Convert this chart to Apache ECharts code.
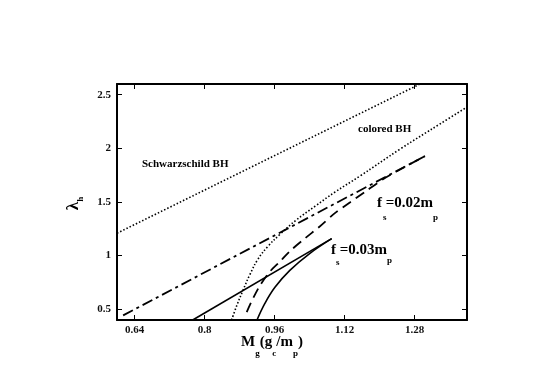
<!DOCTYPE html>
<html>
<head>
<meta charset="utf-8">
<script src="https://cdn.jsdelivr.net/npm/echarts@6/dist/echarts.min.js"></script>
<style>html,body{margin:0;padding:0;background:#fff;}#c{width:545px;height:380px;}</style>
</head>
<body>
<div id="c"></div>
<script>
// ---- data ----
const xTicks = [0.64, 0.8, 0.96, 1.12, 1.28];
const yTicks = [0.5, 1, 1.5, 2, 2.5];

const schwarzschildX = [0.6, 1.2926];
const schwarzschildY = [1.209, 2.6];

const coloredBHX = [0.862, 0.874, 0.888, 0.904, 0.922, 0.945, 0.973, 1.009, 1.053, 1.098, 1.155, 1.247, 1.338, 1.40];
const coloredBHY = [0.400, 0.537, 0.677, 0.826, 0.966, 1.087, 1.200, 1.330, 1.461, 1.592, 1.741, 1.993, 2.227, 2.385];

const fs002StraightX = [0.614, 1.304];
const fs002StraightY = [0.443, 1.928];

const fs002CurveX = [0.8965, 0.911, 0.927, 0.950, 0.973, 0.995, 1.030, 1.064, 1.098, 1.133, 1.167, 1.208, 1.247, 1.304];
const fs002CurveY = [0.474, 0.602, 0.723, 0.854, 0.947, 1.041, 1.162, 1.274, 1.396, 1.498, 1.595, 1.712, 1.803, 1.928];

const fs003StraightX = [0.773, 1.0907];
const fs003StraightY = [0.400, 1.159];

const fs003CurveX = [0.920, 0.938, 0.961, 0.995, 1.041, 1.0907];
const fs003CurveY = [0.400, 0.555, 0.705, 0.863, 1.022, 1.159];

function pairs(xs, ys) { return xs.map((x, i) => [x, ys[i]]); }

const SERIF = '"Liberation Serif", "Times New Roman", serif';
const chart = echarts.init(document.getElementById('c'), null, {renderer: 'canvas'});

const axisCommon = {
  type: 'value',
  axisLine: {show: true, onZero: false, lineStyle: {color: '#000', width: 2}},
  splitLine: {show: false},
  axisTick: {show: true, inside: true, length: 5, lineStyle: {color: '#000', width: 1}},
};

function lineSeries(name, xs, ys, style, smooth) {
  return {
    name: name, type: 'line', showSymbol: false, symbol: 'none',
    smooth: smooth || false, clip: true,
    data: pairs(xs, ys),
    lineStyle: Object.assign({color: '#000', width: 1.5}, style),
    emphasis: {disabled: true}, animation: false
  };
}

chart.setOption({
  animation: false,
  grid: {left: 117, right: 78, top: 84, bottom: 60, containLabel: false},
  xAxis: [
    Object.assign({}, axisCommon, {
      min: 0.6, max: 1.4, position: 'bottom',
      axisTick: Object.assign({}, axisCommon.axisTick, {customValues: xTicks}),
      axisLabel: {customValues: xTicks, margin: 5, color: '#111', fontFamily: SERIF, fontWeight: 'bold', fontSize: 11}
    }),
    Object.assign({}, axisCommon, {
      min: 0.6, max: 1.4, position: 'top',
      axisTick: Object.assign({}, axisCommon.axisTick, {customValues: xTicks}),
      axisLabel: {show: false}
    })
  ],
  yAxis: [
    Object.assign({}, axisCommon, {
      min: 0.4, max: 2.6, position: 'left',
      axisTick: Object.assign({}, axisCommon.axisTick, {customValues: yTicks}),
      axisLabel: {customValues: yTicks, margin: 6, color: '#111', fontFamily: SERIF, fontWeight: 'bold', fontSize: 11}
    }),
    Object.assign({}, axisCommon, {
      min: 0.4, max: 2.6, position: 'right',
      axisTick: Object.assign({}, axisCommon.axisTick, {customValues: yTicks}),
      axisLabel: {show: false}
    })
  ],
  series: [
    lineSeries('Schwarzschild BH', schwarzschildX, schwarzschildY, {type: [1.5, 2], width: 1.6}),
    lineSeries('colored BH', coloredBHX, coloredBHY, {type: [1.5, 2], width: 1.6}, 0.4),
    lineSeries('fs=0.02 straight', fs002StraightX, fs002StraightY, {type: [11, 4, 3, 4], width: 1.8}),
    lineSeries('fs=0.02 curve', fs002CurveX, fs002CurveY, {type: [10, 6], width: 1.8}, 0.3),
    lineSeries('fs=0.03 straight', fs003StraightX, fs003StraightY, {type: 'solid', width: 1.6}),
    lineSeries('fs=0.03 curve', fs003CurveX, fs003CurveY, {type: 'solid', width: 1.6}, 0.4)
  ],
  graphic: [
    {type: 'text', x: 142, y: 164, style: {text: 'Schwarzschild BH', font: 'bold 11px ' + SERIF, fill: '#000', verticalAlign: 'middle'}},
    {type: 'text', x: 358, y: 129, style: {text: 'colored BH', font: 'bold 11px ' + SERIF, fill: '#000', verticalAlign: 'middle'}},
    // f_s = 0.02 m_p
    {type: 'text', x: 377, y: 203, style: {text: 'f =0.02m', font: 'bold 15px ' + SERIF, fill: '#000', verticalAlign: 'middle'}},
    {type: 'text', x: 383, y: 218, style: {text: 's', font: 'bold 9px ' + SERIF, fill: '#000', verticalAlign: 'middle'}},
    {type: 'text', x: 433, y: 218, style: {text: 'p', font: 'bold 9px ' + SERIF, fill: '#000', verticalAlign: 'middle'}},
    // f_s = 0.03 m_p
    {type: 'text', x: 331, y: 250, style: {text: 'f =0.03m', font: 'bold 15px ' + SERIF, fill: '#000', verticalAlign: 'middle'}},
    {type: 'text', x: 336, y: 262.5, style: {text: 's', font: 'bold 9px ' + SERIF, fill: '#000', verticalAlign: 'middle'}},
    {type: 'text', x: 387, y: 260.5, style: {text: 'p', font: 'bold 9px ' + SERIF, fill: '#000', verticalAlign: 'middle'}},
    // x axis name
    {type: 'text', x: 272, y: 335, style: {
      text: '{b|M}{s|g}{b|(g}{s|c}{b|/m}{s|p}{b|)}', align: 'center', verticalAlign: 'top',
      rich: {
        b: {fontFamily: SERIF, fontWeight: 'bold', fontSize: 15, lineHeight: 16, verticalAlign: 'top', fill: '#000'},
        s: {fontFamily: SERIF, fontWeight: 'bold', fontSize: 9, lineHeight: 10, padding: [14, 0, 0, 0], verticalAlign: 'top', fill: '#000'}
      }
    }},
    // y axis name
    {type: 'text', x: 73.5, y: 203.5, rotation: Math.PI / 2, style: {
      text: '{b|λ}{s|h}', align: 'center', verticalAlign: 'middle',
      rich: {
        b: {fontFamily: SERIF, fontWeight: 'bold', fontSize: 17, lineHeight: 16, verticalAlign: 'top', fill: '#000'},
        s: {fontFamily: SERIF, fontWeight: 'bold', fontSize: 9, lineHeight: 10, padding: [11, 0, 0, 0], verticalAlign: 'top', fill: '#000'}
      }
    }}
  ]
});
</script>
</body>
</html>
